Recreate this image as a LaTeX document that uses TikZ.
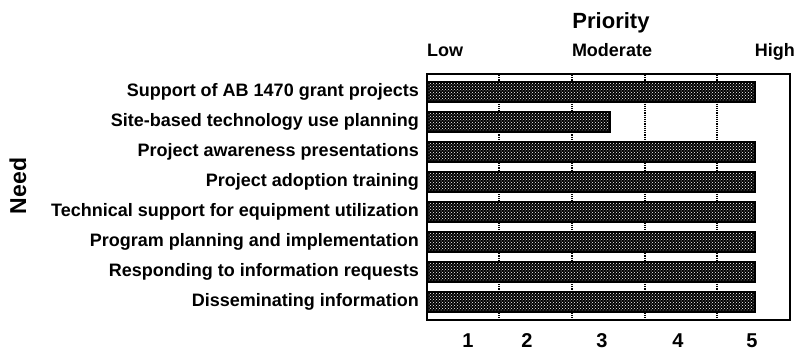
\documentclass[tikz,border=0pt]{standalone}
\usepackage{fontspec}
\setmainfont{Liberation Sans}
\usetikzlibrary{patterns}

\tikzset{
  needlabel/.style={anchor=base east, inner sep=0pt, font=\bfseries\fontsize{18}{20}\selectfont},
  barbox/.style={draw=black, line width=2pt, preaction={fill=black}, pattern=crosshatch dots, pattern color=white},
  gridline/.style={densely dotted, line width=1.2pt},
  ticklabel/.style={anchor=base, inner sep=0pt, font=\bfseries\fontsize{20}{22}\selectfont},
  scalelabel/.style={inner sep=0pt, font=\bfseries\fontsize{18}{20}\selectfont}
}

\begin{document}
\begin{tikzpicture}[x=1pt,y=-1pt]
  \useasboundingbox (0,0) rectangle (797,352);

  % grid lines behind the bars
  \foreach \gx in {499,572,645,717}
    \draw[gridline] (\gx,75) -- (\gx,319);

  % bars and needs
  \foreach \row/\need/\xend in {1/Support of AB 1470 grant projects/755,
      2/Site-based technology use planning/610,
      3/Project awareness presentations/755,
      4/Project adoption training/755,
      5/Technical support for equipment utilization/755,
      6/Program planning and implementation/755,
      7/Responding to information requests/755,
      8/Disseminating information/755}
  {
    \pgfmathsetmacro{\yc}{62+30*\row}
    \draw[barbox] (427,\yc-10) rectangle (\xend,\yc+10);
    \node[needlabel] (need\row) at (419,\yc+4.5) {\need};
  }

  % frame
  \draw[line width=2.5pt] (427,74) rectangle (790,320);

  % priority scale
  \node[font=\bfseries\fontsize{22}{24}\selectfont, inner sep=0pt, anchor=base] (priority) at (611,29) {Priority};
  \node[scalelabel, anchor=base west] (low) at (427,57) {Low};
  \node[scalelabel, anchor=base] (moderate) at (612,57) {Moderate};
  \node[scalelabel, anchor=base east] (high) at (795,57) {High};

  % ratings
  \foreach \n/\tx in {1/468,2/527,3/602,4/678,5/752}
    \node[ticklabel] (tick\n) at (\tx,347) {\n};

  \node[rotate=90, font=\bfseries\fontsize{23}{25}\selectfont, inner sep=0pt] (needaxis) at (18,186) {Need};
\end{tikzpicture}
\end{document}
